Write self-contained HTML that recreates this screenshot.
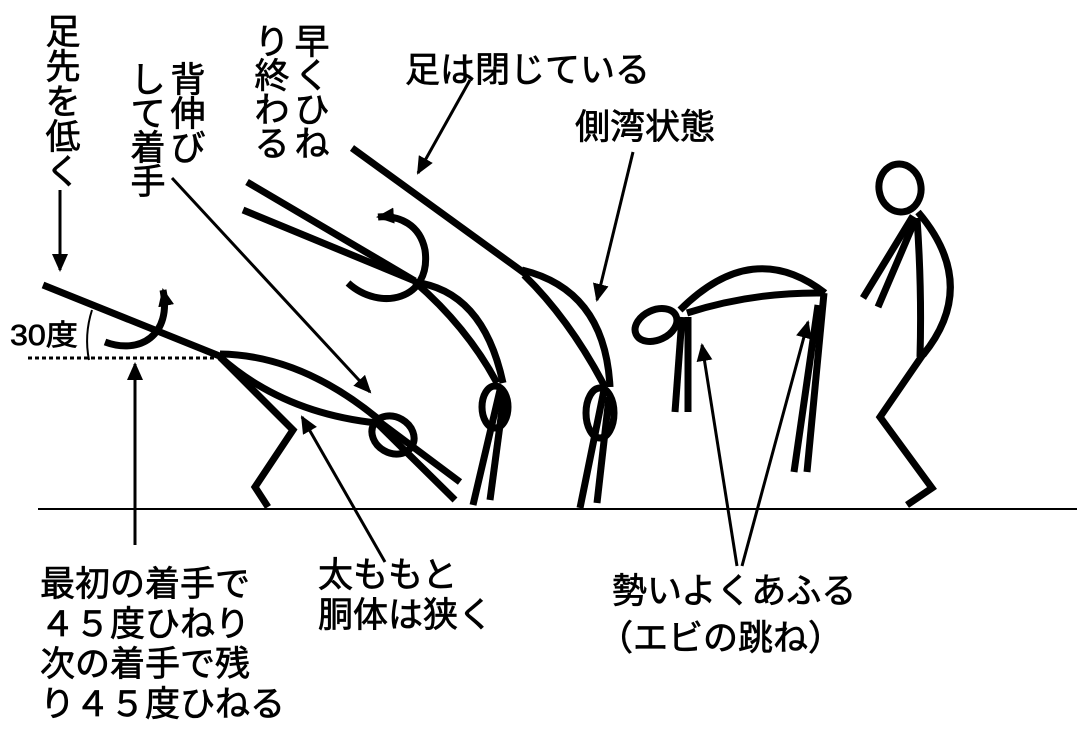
<!DOCTYPE html>
<html><head><meta charset="utf-8"><style>
html,body{margin:0;padding:0;background:#fff;}
svg{display:block;}
text{font-family:"Liberation Sans","Noto Sans CJK JP",sans-serif;font-size:35px;fill:#000;stroke:#000;stroke-width:0.7;}
</style></head><body>
<svg width="1077" height="732" viewBox="0 0 1077 732" xmlns="http://www.w3.org/2000/svg">
<defs>
<marker id="ah2" markerWidth="18" markerHeight="16" refX="16" refY="8" orient="auto" markerUnits="userSpaceOnUse"><path d="M0,0 L18,8 L0,16 z" fill="#000"/></marker>
</defs>
<line x1="38" y1="509" x2="1077" y2="509" stroke="#000" stroke-width="2"/>
<g fill="none" stroke="#000" stroke-width="7">
<line x1="43" y1="285" x2="222" y2="357"/>
<path d="M220,354 Q300,355 377,418"/>
<path d="M220,357 Q283,413 377,423"/>
<ellipse cx="393" cy="435" rx="22" ry="18" transform="rotate(30 393 435)"/>
<line x1="377" y1="420" x2="460" y2="482"/>
<line x1="377" y1="423" x2="455" y2="500"/>
<polyline points="220,357 293,430 255,487 268,507"/>
<line x1="247" y1="182" x2="415" y2="281"/>
<line x1="243" y1="210" x2="415" y2="281"/>
<path d="M413,282 Q483,290 503,383"/>
<path d="M415,282 Q467,327 497,383"/>
<ellipse cx="495" cy="407" rx="13" ry="21"/>
<line x1="500" y1="390" x2="473" y2="505"/>
<line x1="504" y1="395" x2="490" y2="500"/>
<line x1="352" y1="148" x2="527" y2="275"/>
<path d="M522,270 Q605,290 610,387"/>
<path d="M524,275 Q570,320 605,387"/>
<ellipse cx="600" cy="413" rx="14" ry="25"/>
<line x1="604" y1="390" x2="580" y2="508"/>
<line x1="609" y1="397" x2="597" y2="503"/>
<ellipse cx="656" cy="325" rx="22" ry="15" transform="rotate(-25 656 325)"/>
<path d="M680,310 Q753,237 825,293"/>
<path d="M687,313 Q753,292 823,293"/>
<line x1="682" y1="317" x2="675" y2="412"/>
<line x1="688" y1="317" x2="688" y2="412"/>
<line x1="824" y1="293" x2="807" y2="472"/>
<line x1="818" y1="305" x2="794" y2="472"/>
<ellipse cx="900" cy="188" rx="21" ry="24" transform="rotate(-10 900 188)"/>
<line x1="913" y1="216" x2="863" y2="298"/>
<line x1="916" y1="218" x2="878" y2="307"/>
<path d="M917,218 Q922,290 920,357"/>
<path d="M918,212 Q980,285 923,355"/>
<polyline points="924,353 880,417 932,488 907,505"/>
<path d="M105,342 C140,355 172,335 163,290" marker-end="url(#ah2)"/>
<path d="M348,283 C380,312 432,300 425,250 C420,225 400,215 378,217" marker-end="url(#ah2)"/>
</g>
<g stroke="#000" stroke-width="3" fill="none">
<line x1="60" y1="190" x2="60" y2="270" marker-end="url(#ah2)"/>
<line x1="135" y1="545" x2="135" y2="364" marker-end="url(#ah2)"/>
<line x1="172" y1="178" x2="370" y2="392" marker-end="url(#ah2)"/>
<line x1="385" y1="562" x2="302" y2="417" marker-end="url(#ah2)"/>
<line x1="470" y1="80" x2="418" y2="173" marker-end="url(#ah2)"/>
<line x1="633" y1="152" x2="597" y2="300" marker-end="url(#ah2)"/>
<line x1="737" y1="566" x2="702" y2="345" marker-end="url(#ah2)"/>
<line x1="742" y1="566" x2="808" y2="322" marker-end="url(#ah2)"/>
<path d="M92,310 Q84,335 89,360" stroke-width="2"/>
<line x1="28" y1="358" x2="215" y2="358" stroke-dasharray="4,3"/>
</g>
<text x="10" y="345" style="font-size:29px" textLength="68" lengthAdjust="spacingAndGlyphs">30度</text>
<g text-anchor="middle">
<text x="63" y="44">足</text><text x="63" y="79">先</text><text x="63" y="114">を</text><text x="63" y="149">低</text><text x="63" y="184">く</text>
<text x="188" y="92">背</text><text x="188" y="126">伸</text><text x="188" y="160">び</text>
<text x="148" y="92">し</text><text x="148" y="126">て</text><text x="148" y="160">着</text><text x="148" y="194">手</text>
<text x="312" y="54">早</text><text x="312" y="88">く</text><text x="312" y="122">ひ</text><text x="312" y="156">ね</text>
<text x="272" y="54">り</text><text x="272" y="88">終</text><text x="272" y="122">わ</text><text x="272" y="156">る</text>
</g>
<text x="405" y="82">足は閉じている</text>
<text x="575" y="139">側湾状態</text>
<text x="40" y="596">最初の着手で</text>
<text x="40" y="636">４５度ひねり</text>
<text x="40" y="676">次の着手で残</text>
<text x="40" y="716">り４５度ひねる</text>
<text x="318" y="587">太ももと</text>
<text x="318" y="627">胴体は狭く</text>
<text x="612" y="603">勢いよくあふる</text>
<text x="598" y="650">（エビの跳ね）</text>
</svg>
</body></html>
